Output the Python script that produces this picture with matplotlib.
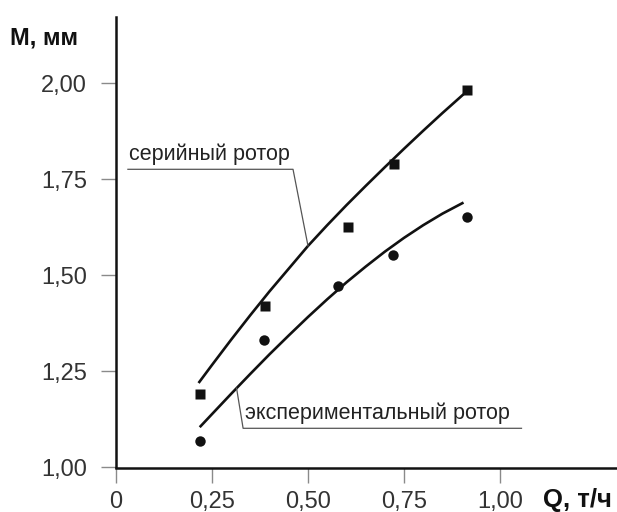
import numpy as np
import matplotlib
matplotlib.use("Agg")
import matplotlib.pyplot as plt

plt.rcParams["font.family"] = ["Liberation Sans", "DejaVu Sans"]

# measured points
serial_q = [0.218, 0.388, 0.603, 0.725, 0.913]
serial_m = [1.191, 1.421, 1.627, 1.790, 1.983]
exp_q = [0.219, 0.386, 0.577, 0.721, 0.913]
exp_m = [1.069, 1.332, 1.473, 1.553, 1.653]

# approximating curves
serial_curve_q = [0.215, 0.25, 0.30, 0.35, 0.40, 0.45, 0.50, 0.55,
                  0.60, 0.65, 0.70, 0.75, 0.80, 0.85, 0.905]
serial_curve_m = [1.220, 1.267, 1.333, 1.397, 1.459, 1.518, 1.577, 1.631,
                  1.683, 1.733, 1.782, 1.830, 1.877, 1.923, 1.972]
exp_curve_q = [0.218, 0.25, 0.30, 0.35, 0.40, 0.45, 0.50, 0.55,
               0.60, 0.65, 0.70, 0.75, 0.80, 0.85, 0.905]
exp_curve_m = [1.105, 1.139, 1.192, 1.244, 1.295, 1.344, 1.392, 1.438,
               1.482, 1.523, 1.562, 1.598, 1.631, 1.661, 1.690]

xticks = [0, 0.25, 0.5, 0.75, 1.0]
xtick_labels = ["0", "0,25", "0,50", "0,75", "1,00"]
yticks = [1.0, 1.25, 1.5, 1.75, 2.0]
ytick_labels = ["1,00", "1,25", "1,50", "1,75", "2,00"]

W, H = 617, 512
fig = plt.figure(figsize=(W / 100, H / 100), dpi=100)
ax = fig.add_axes([116 / W, 44.5 / H, 501 / W, 450.5 / H])
ax.set_xlim(0, 501 / 384)
ax.set_ylim(1.0, 1 + 450.5 / 384)

line_col = "#111111"
ax.plot(serial_curve_q, serial_curve_m, color=line_col, lw=1.9, solid_capstyle="butt")
ax.plot(exp_curve_q, exp_curve_m, color=line_col, lw=1.9, solid_capstyle="butt")
ax.plot(serial_q, serial_m, "s", color=line_col, ms=7, mec="none")
ax.plot(exp_q, exp_m, "o", color=line_col, ms=7.5, mec="none")

for s in ["top", "right"]:
    ax.spines[s].set_visible(False)
for s in ["left", "bottom"]:
    ax.spines[s].set_linewidth(1.8)
    ax.spines[s].set_color(line_col)
    ax.spines[s].set_zorder(5)

ax.set_xticks(xticks, xtick_labels)
ax.set_yticks(yticks, ytick_labels)
ax.tick_params(axis="both", direction="out", length=11, width=1.0,
               color="#8a8a8a", labelsize=17, labelcolor="#333333")
ax.tick_params(axis="y", pad=10)
ax.tick_params(axis="x", pad=6)

# leader labels
lead_col = "#555555"
y_s = 1 + (467.5 - 169.3) / 384
x_end = 0.50
ax.plot([0.031, 0.461, x_end], [y_s, y_s, np.interp(x_end, serial_curve_q, serial_curve_m)],
        color=lead_col, lw=0.9)
ax.text(0.033, y_s + 0.010, "серийный ротор", fontsize=15.5, color="#222222",
        ha="left", va="bottom")

y_e = 1 + (467.5 - 428.3) / 384
x_start = 0.314
ax.plot([x_start, 0.331, 1.056], [np.interp(x_start, exp_curve_q, exp_curve_m), y_e, y_e],
        color=lead_col, lw=0.9)
ax.text(0.336, y_e + 0.010, "экспериментальный ротор", fontsize=15.5, color="#222222",
        ha="left", va="bottom")

fig.text(10 / W, 1 - 44 / H, "M, мм", fontsize=17, fontweight="bold",
         color="#111111", ha="left", va="baseline")
fig.text(543 / W, 1 - 507 / H, "Q, т/ч", fontsize=18.5, fontweight="bold",
         color="#111111", ha="left", va="baseline")

fig.savefig("out.png", dpi=100)
